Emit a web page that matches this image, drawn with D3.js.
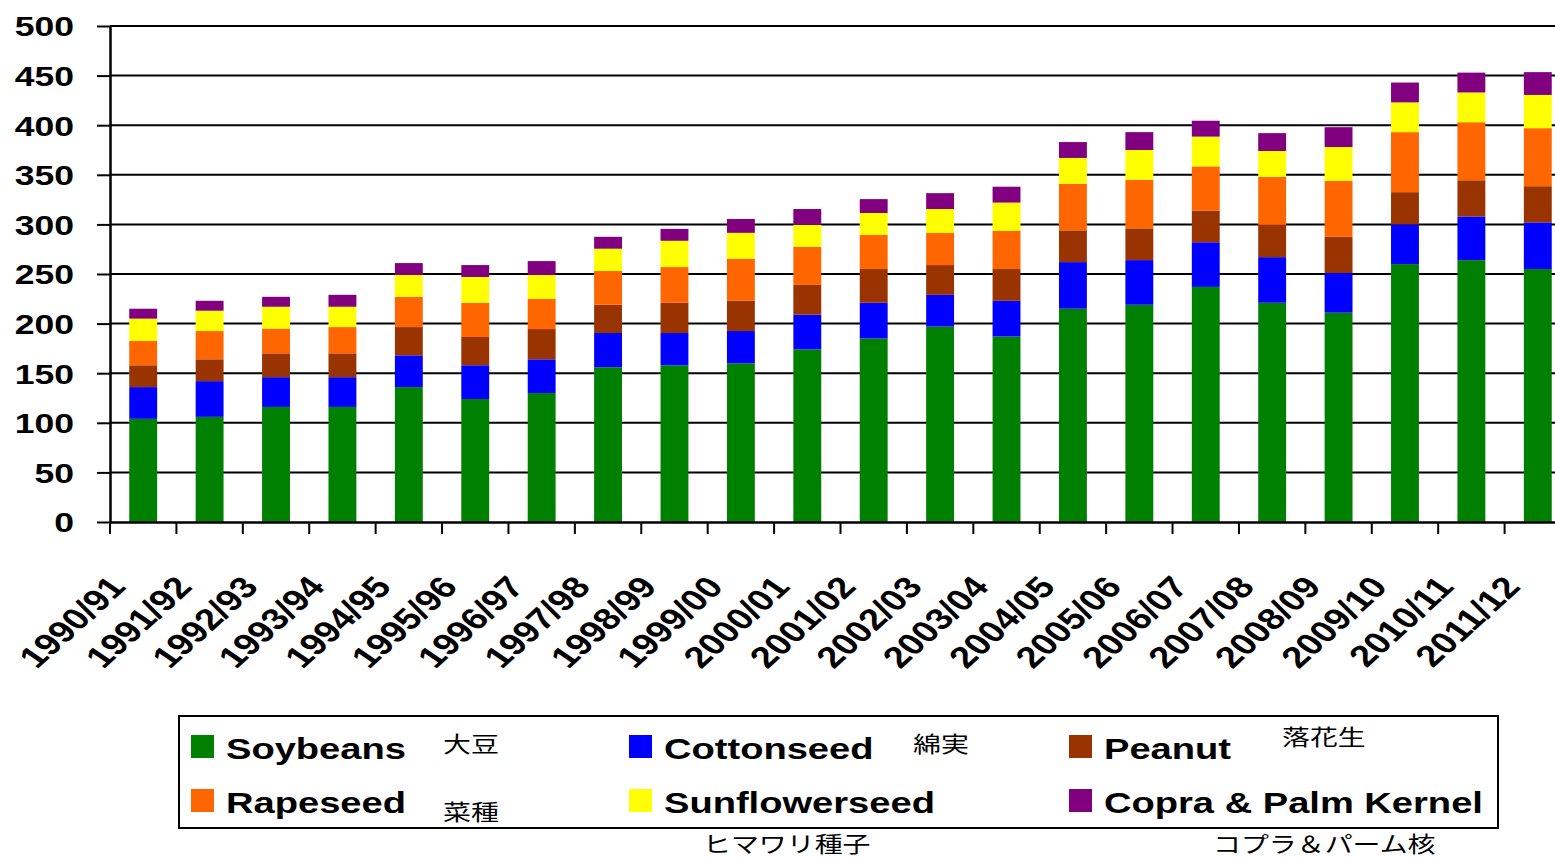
<!DOCTYPE html>
<html>
<head>
<meta charset="utf-8">
<script src="https://cdn.jsdelivr.net/npm/d3@7"></script>
<style>
  body { margin: 0; background: #fff; }
  text { font-family: "Liberation Sans", Arial, sans-serif; }
  .jp { font-family: "Noto Sans CJK JP", sans-serif; }
</style>
</head>
<body>
<div id="chart"></div>
<script>
// season labels on the x axis
const categories = ["1990/91","1991/92","1992/93","1993/94","1994/95","1995/96","1996/97","1997/98",
  "1998/99","1999/00","2000/01","2001/02","2002/03","2003/04","2004/05","2005/06","2006/07",
  "2007/08","2008/09","2009/10","2010/11","2011/12"];

// values (million tons)
const soybeans   = [104,106,116,116,136,124,130,156,158,160,174,185,197,187,215,219,237,221,211,260,264,255];
const cottonseed = [32,36,30,30,32,34,34,34.5,32.5,32.5,35,36,32,36,47,45,45,46,40,40,44,47];
const peanut     = [22,22,24,24,28.5,28.5,30.5,28.5,30.5,30.5,30,34,30,32,32,32,32,32.5,36.5,32.5,36.5,36.5];
const rapeseed   = [24.5,28.5,25,26.5,30.5,34.5,30.5,34,36,42.5,38.5,34.5,32.5,38.5,47,49,44.5,48.5,56.5,60.5,58.5,58.5];
const sunflower  = [22.5,20.5,22,20.5,22,26,24,22.5,26.5,26,22,22,24,28.5,26,30,30,26,34,30,30,33.5];
const copra      = [10,10,10,12,12,12,14,12,12,14,16,14,16,16,16,18,16,18,20,20,20,23];

const seriesNames = ["Soybeans","Cottonseed","Peanut","Rapeseed","Sunflowerseed","Copra & Palm Kernel"];
const seriesJp    = ["大豆","綿実","落花生","菜種","ヒマワリ種子","コプラ＆パーム核"];
const colors      = ["#008000","#0000ff","#993300","#ff6600","#ffff00","#800080"];
const yTicks      = [0,50,100,150,200,250,300,350,400,450,500];

const config = {
  width: 1555, height: 857,
  left: 110, right: 1571, top: 26, bottom: 522,
  sx: 1.27   // the picture is stretched sideways, so text is too
};

const table = categories.map((c, i) => ({
  cat: c,
  "Soybeans": soybeans[i],
  "Cottonseed": cottonseed[i],
  "Peanut": peanut[i],
  "Rapeseed": rapeseed[i],
  "Sunflowerseed": sunflower[i],
  "Copra & Palm Kernel": copra[i]
}));

const svg = d3.select("#chart").append("svg")
  .attr("width", config.width)
  .attr("height", config.height);

const xScale = d3.scaleBand().domain(categories).range([config.left, config.right]);
const yScale = d3.scaleLinear().domain([0, 500]).range([config.bottom, config.top]);
const bw = xScale.bandwidth();

// gridlines
svg.append("g")
  .selectAll("line")
  .data(yTicks.filter(d => d > 0))
  .join("line")
  .attr("x1", config.left).attr("x2", config.width)
  .attr("y1", d => yScale(d)).attr("y2", d => yScale(d))
  .attr("stroke", "#000").attr("stroke-width", 2);

// stacked bars
const stacked = d3.stack().keys(seriesNames)(table);
svg.append("g")
  .selectAll("g")
  .data(stacked)
  .join("g")
  .attr("fill", (d, i) => colors[i])
  .selectAll("rect")
  .data(d => d)
  .join("rect")
  .attr("x", d => xScale(d.data.cat) + bw * 0.29)
  .attr("width", bw * 0.42)
  .attr("y", d => yScale(d[1]))
  .attr("height", d => yScale(d[0]) - yScale(d[1]));

// y axis
const yAxis = svg.append("g")
  .attr("transform", `translate(${config.left},0)`)
  .call(d3.axisLeft(yScale).tickValues(yTicks).tickSize(13).tickSizeOuter(0));
yAxis.select(".domain").attr("stroke", "#000").attr("stroke-width", 2.5);
yAxis.selectAll(".tick line").attr("stroke", "#000").attr("stroke-width", 2);
yAxis.selectAll(".tick text")
  .attr("x", null).attr("dy", "0.35em")
  .attr("transform", `translate(-36,0) scale(${config.sx},1)`)
  .attr("text-anchor", "end")
  .style("font-size", "28px").style("font-weight", "bold")
  .attr("fill", "#000");

// x axis, ticks between the bars
const xAxis = svg.append("g")
  .attr("transform", `translate(0,${config.bottom})`)
  .call(d3.axisBottom(xScale).tickSize(12).tickSizeOuter(0));
xAxis.select(".domain").attr("stroke", "#000").attr("stroke-width", 2.5);
xAxis.selectAll(".tick line")
  .attr("x1", -bw / 2).attr("x2", -bw / 2)
  .attr("stroke", "#000").attr("stroke-width", 2);
xAxis.selectAll(".tick text")
  .attr("x", null).attr("y", null).attr("dy", null)
  .attr("text-anchor", "end")
  .attr("transform", `translate(-16,66) scale(${config.sx},1) rotate(-49)`)
  .style("font-size", "30px").style("font-weight", "bold")
  .attr("fill", "#000");

// legend
const legend = svg.append("g");
legend.append("rect")
  .attr("x", 179).attr("y", 716).attr("width", 1319).attr("height", 112)
  .attr("fill", "#fff").attr("stroke", "#000").attr("stroke-width", 2);

const colX = [191, 629, 1069];
const rowY = [735, 789];
const jpPos = [[443, 752], [913, 752], [1282, 745], [443, 820], [703, 852], [1213, 852]];

seriesNames.forEach((name, i) => {
  const cx = colX[i % 3], ry = rowY[Math.floor(i / 3)];
  legend.append("rect")
    .attr("x", cx).attr("y", ry).attr("width", 23).attr("height", 23)
    .attr("fill", colors[i]);
  legend.append("text")
    .attr("transform", `translate(${cx + 35},${ry + 24}) scale(${config.sx},1)`)
    .style("font-size", "30px").style("font-weight", "bold")
    .attr("fill", "#000")
    .text(name);
  legend.append("text")
    .attr("class", "jp")
    .attr("transform", `translate(${jpPos[i][0]},${jpPos[i][1]}) scale(${config.sx},1)`)
    .style("font-size", "22px")
    .attr("fill", "#000")
    .text(seriesJp[i]);
});
</script>
</body>
</html>
